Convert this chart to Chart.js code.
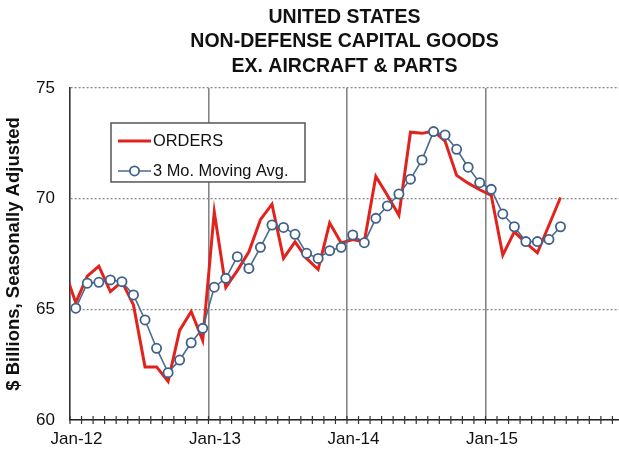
<!DOCTYPE html>
<html>
<head>
<meta charset="utf-8">
<script src="https://cdn.jsdelivr.net/npm/chart.js@4.4.1/dist/chart.umd.min.js"></script>
<style>
html,body{margin:0;padding:0;background:#ffffff;}
#wrap{width:619px;height:452px;position:relative;}
</style>
</head>
<body>
<div id="wrap"><canvas id="c" width="619" height="452"></canvas></div>
<script>
// ---------- data ----------
const titleLines = ["UNITED STATES", "NON-DEFENSE CAPITAL GOODS", "EX. AIRCRAFT & PARTS"];
const yAxisTitle = "$ Billions, Seasonally Adjusted";
const seriesNames = ["ORDERS", "3 Mo. Moving Avg."];
const yearTickLabels = ["Jan-12", "Jan-13", "Jan-14", "Jan-15"];

const months = [
  "Dec-11",
  "Jan-12","Feb-12","Mar-12","Apr-12","May-12","Jun-12","Jul-12","Aug-12","Sep-12","Oct-12","Nov-12","Dec-12",
  "Jan-13","Feb-13","Mar-13","Apr-13","May-13","Jun-13","Jul-13","Aug-13","Sep-13","Oct-13","Nov-13","Dec-13",
  "Jan-14","Feb-14","Mar-14","Apr-14","May-14","Jun-14","Jul-14","Aug-14","Sep-14","Oct-14","Nov-14","Dec-14",
  "Jan-15","Feb-15","Mar-15","Apr-15","May-15","Jun-15","Jul-15"
];
const orders = [
  66.8,
  65.3, 66.5, 66.95, 65.8, 66.25, 65.2, 62.4, 62.4, 61.75, 64.05, 64.9, 63.6,
  69.4, 66.0, 66.75, 67.6, 69.05, 69.75, 67.3, 68.05, 67.3, 66.8, 68.9, 68.0,
  68.15, 68.05, 71.0, 70.15, 69.25, 73.0, 72.95, 73.05, 72.6, 71.05, 70.7, 70.4,
  70.15, 67.45, 68.5, 68.0, 67.55, 68.8, 70.05
];
const movingAvg = [
  null,
  65.05, 66.18, 66.22, 66.33, 66.25, 65.65, 64.52, 63.24, 62.14, 62.71, 63.49, 64.14,
  66.0, 66.4, 67.38, 66.85, 67.8, 68.81, 68.7, 68.39, 67.53, 67.3, 67.65, 67.8,
  68.36, 68.01, 69.11, 69.67, 70.21, 70.88, 71.75, 73.03, 72.88, 72.23, 71.42, 70.72,
  70.42, 69.31, 68.73, 68.06, 68.06, 68.16, 68.73
];

// ---------- helpers ----------
const MON = ["Jan","Feb","Mar","Apr","May","Jun","Jul","Aug","Sep","Oct","Nov","Dec"];
function monthIndex(label) {           // months since Jan-12
  const [m, y] = label.split("-");
  return (parseInt(y, 10) - 12) * 12 + MON.indexOf(m);
}
const FONT = "'Liberation Sans', Arial, Helvetica, sans-serif";
const RED = "#e2221d";
const BLUE = "#40628a";

// minor month tick marks crossing the x axis
const minorTicks = {
  id: "minorTicks",
  afterDraw(chart) {
    const xs = chart.scales.x, ctx = chart.ctx, yb = chart.chartArea.bottom;
    ctx.save();
    ctx.strokeStyle = "#333";
    ctx.lineWidth = 1.2;
    xs.ticks.forEach(t => {
      const px = xs.getPixelForValue(t.value);
      ctx.beginPath();
      ctx.moveTo(px, yb - 4);
      ctx.lineTo(px, yb + 4);
      ctx.stroke();
    });
    ctx.restore();
  }
};

// legend box inside the plot
const legendBox = {
  id: "legendBox",
  afterDraw(chart) {
    const ctx = chart.ctx, a = chart.chartArea;
    const bx = a.left + 41, by = a.top + 35, bw = 194, bh = 59;
    ctx.save();
    ctx.fillStyle = "#ffffff";
    ctx.fillRect(bx, by, bw, bh);
    ctx.strokeStyle = "#555";
    ctx.lineWidth = 1.5;
    ctx.strokeRect(bx, by, bw, bh);
    const ord = chart.data.datasets[1], ma = chart.data.datasets[0];
    const rows = [by + 18, by + 48];
    const lx1 = bx + 7, lx2 = bx + 40;
    // ORDERS
    ctx.strokeStyle = ord.borderColor;
    ctx.lineWidth = ord.borderWidth;
    ctx.beginPath(); ctx.moveTo(lx1, rows[0]); ctx.lineTo(lx2, rows[0]); ctx.stroke();
    // moving average
    ctx.strokeStyle = ma.borderColor;
    ctx.lineWidth = ma.borderWidth;
    ctx.beginPath(); ctx.moveTo(lx1, rows[1]); ctx.lineTo(lx2, rows[1]); ctx.stroke();
    ctx.beginPath();
    ctx.arc((lx1 + lx2) / 2, rows[1], ma.pointRadius, 0, Math.PI * 2);
    ctx.fillStyle = ma.pointBackgroundColor; ctx.fill();
    ctx.strokeStyle = ma.pointBorderColor; ctx.lineWidth = ma.pointBorderWidth; ctx.stroke();
    // text
    ctx.fillStyle = "#111";
    ctx.font = "16.4px " + FONT;
    ctx.textBaseline = "middle";
    ctx.textAlign = "left";
    ctx.fillText(ord.label, lx2 + 2, rows[0] + 1);
    ctx.fillText(ma.label, lx2 + 2, rows[1] + 1);
    ctx.restore();
  }
};

new Chart(document.getElementById("c"), {
  type: "line",
  data: {
    datasets: [
      {
        label: seriesNames[1],
        data: months.map((m, i) => ({ x: monthIndex(m), y: movingAvg[i] })),
        borderColor: "#4a6a90",
        borderWidth: 1.6,
        pointRadius: 4.6,
        pointBackgroundColor: "#ffffff",
        pointBorderColor: BLUE,
        pointBorderWidth: 1.8,
        tension: 0,
        order: 0
      },
      {
        label: seriesNames[0],
        data: months.map((m, i) => ({ x: monthIndex(m), y: orders[i] })),
        borderColor: RED,
        borderWidth: 3,
        pointRadius: 0,
        tension: 0,
        borderJoinStyle: "miter",
        order: 1
      }
    ]
  },
  options: {
    responsive: false,
    animation: false,
    events: [],
    layout: { autoPadding: false, padding: { left: 0, right: 0, top: 0, bottom: 0 } },
    plugins: {
      legend: { display: false },
      tooltip: { enabled: false },
      title: {
        display: true,
        fullSize: false,
        text: titleLines,
        color: "#111",
        font: { family: FONT, size: 19.5, weight: "bold", lineHeight: 1.256 },
        padding: { top: 5, bottom: 9.5 }
      }
    },
    scales: {
      x: {
        type: "linear",
        min: -0.5,
        max: 47.07,
        afterBuildTicks: (s) => {
          const t = [];
          for (let k = 0; k < 48; k++) { if (k - 0.5 <= s.max) t.push({ value: k - 0.5 }); }
          s.ticks = t;
        },
        afterFit: (s) => { s.height = 32; s.paddingRight = 0; s.paddingLeft = 0; },
        ticks: {
          autoSkip: false,
          maxRotation: 0,
          minRotation: 0,
          labelOffset: 6.5,
          padding: 3,
          color: "#111",
          font: { family: FONT, size: 17 },
          callback: (v) => {
            const k = (v + 0.5) / 12;
            return Number.isInteger(k) && yearTickLabels[k] ? yearTickLabels[k] : "";
          }
        },
        grid: {
          color: (c) => {
            const v = c.tick ? c.tick.value : NaN;
            const k = (v + 0.5) / 12;
            return (Number.isInteger(k) && k > 0) ? "#858585" : "rgba(0,0,0,0)";
          },
          lineWidth: 1.6,
          drawTicks: true,
          tickLength: 6,
          tickColor: "rgba(0,0,0,0)"
        },
        border: { display: true, color: "#222", width: 1.6 }
      },
      y: {
        min: 60,
        max: 75,
        afterFit: (s) => { s.width = 70; },
        ticks: {
          stepSize: 5,
          padding: 15,
          color: "#111",
          font: { family: FONT, size: 17 }
        },
        grid: { color: "#8a8a8a", lineWidth: 1.3, drawTicks: false },
        border: { display: true, color: "#333", width: 1.6, dash: [2, 2] },
        title: {
          display: true,
          text: yAxisTitle,
          color: "#111",
          font: { family: FONT, size: 18.5, weight: "bold" },
          padding: { top: 3, bottom: 0 }
        }
      }
    }
  },
  plugins: [minorTicks, legendBox]
});
</script>
</body>
</html>
